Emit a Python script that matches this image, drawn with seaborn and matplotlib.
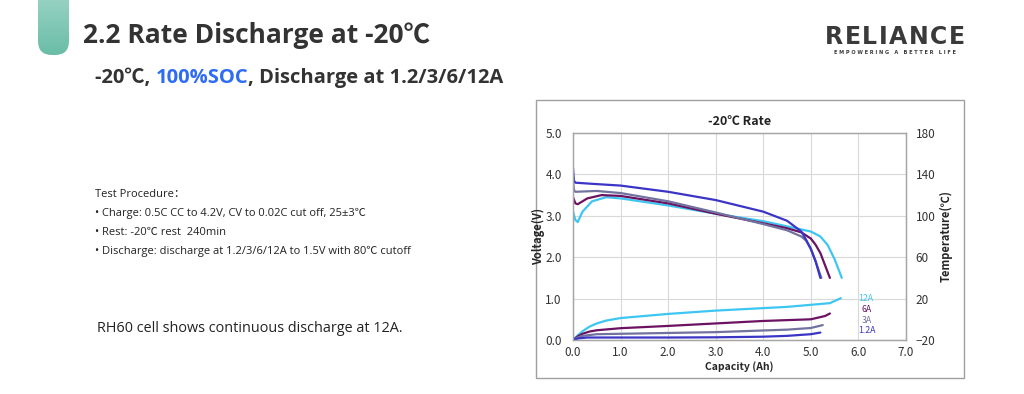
import matplotlib
matplotlib.use("Agg")
import matplotlib.pyplot as plt
import numpy as np
import seaborn as sns
from matplotlib.patches import FancyBboxPatch, Rectangle

sns.set_style("white")
plt.rcParams['font.family'] = ['Noto Sans CJK SC', 'DejaVu Sans']
SLIDE_FONT = ['Open Sans', 'Noto Sans CJK SC', 'DejaVu Sans']

# Voltage curves (capacity Ah, voltage V)
cap_v_12 = [0, 0.02, 0.05, 0.3, 1.0, 2.0, 3.0, 4.0, 4.5, 4.8, 4.9, 5.0, 5.1, 5.2]
volt_12 = [4.15, 3.85, 3.80, 3.78, 3.73, 3.58, 3.38, 3.10, 2.88, 2.62, 2.42, 2.2, 1.9, 1.5]
cap_v_3 = [0, 0.02, 0.05, 0.5, 1.0, 2.0, 3.0, 4.0, 4.5, 4.8, 4.9, 5.0, 5.1, 5.22]
volt_3 = [3.85, 3.62, 3.58, 3.6, 3.55, 3.35, 3.08, 2.8, 2.65, 2.5, 2.4, 2.2, 1.9, 1.5]
cap_v_6 = [0, 0.05, 0.1, 0.3, 0.6, 1.0, 2.0, 3.0, 4.0, 4.5, 4.8, 5.0, 5.1, 5.2, 5.3, 5.4]
volt_6 = [3.45, 3.3, 3.28, 3.42, 3.5, 3.48, 3.3, 3.05, 2.82, 2.7, 2.6, 2.45, 2.3, 2.1, 1.8, 1.5]
cap_v_120 = [0, 0.05, 0.1, 0.2, 0.4, 0.7, 1.0, 2.0, 3.0, 4.0, 4.6, 5.0, 5.2, 5.35, 5.5, 5.65]
volt_120 = [3.1, 2.9, 2.85, 3.1, 3.35, 3.45, 3.42, 3.25, 3.05, 2.87, 2.72, 2.62, 2.5, 2.3, 1.95, 1.5]

# Temperature curves (capacity Ah, temperature C)
cap_t_12 = [0.0, 0.1, 0.3, 1.0, 2.0, 3.0, 4.0, 4.5, 5.0, 5.2]
temp_12 = [-20, -18.5, -17.6, -17.6, -17.6, -17.4, -16.8, -16.0, -14.4, -12.8]
cap_t_3 = [0.0, 0.1, 0.2, 0.5, 1.0, 2.0, 3.0, 4.0, 4.5, 5.0, 5.25]
temp_3 = [-20, -17.5, -16.0, -14.4, -14.0, -13.2, -12.4, -10.8, -10.0, -8.4, -5.6]
cap_t_6 = [0.0, 0.1, 0.2, 0.35, 0.5, 1.0, 2.0, 3.0, 4.0, 4.5, 5.0, 5.3, 5.4]
temp_6 = [-20, -16.5, -14.0, -11.8, -10.6, -8.6, -6.4, -4.0, -1.6, -0.8, 0.0, 3.2, 5.6]
cap_t_120 = [0.0, 0.1, 0.2, 0.35, 0.5, 0.7, 1.0, 2.0, 3.0, 4.0, 4.5, 5.0, 5.4, 5.63]
temp_120 = [-20, -15.5, -11.5, -7.0, -4.0, -1.2, 1.2, 5.2, 8.4, 10.8, 12.0, 14.0, 15.6, 20.4]

series_labels = ["12A", "6A", "3A", "1.2A"]
c_12 = "#3b35c6"
c_3 = "#72729f"
c_6 = "#6b1263"
c_120 = "#3ec6f2"

fig = plt.figure(figsize=(10.24, 3.94), dpi=100)

# overlay in pixel coordinates for slide decorations
bg = fig.add_axes([0, 0, 1, 1])
bg.set_xlim(0, 1024)
bg.set_ylim(394, 0)
bg.axis("off")

pill = FancyBboxPatch((38, -20), 31, 75, boxstyle="round,pad=0,rounding_size=14",
                      linewidth=0, facecolor="none")
bg.add_patch(pill)
grad = np.linspace(0, 1, 100).reshape(-1, 1)
im = bg.imshow(grad, cmap=matplotlib.colors.LinearSegmentedColormap.from_list(
    "g", ["#a6d9cc", "#6abda7"]), extent=(38, 69, 55, -20), aspect="auto", zorder=1)
im.set_clip_path(pill)

bg.text(83, 35, "2.2 Rate Discharge at -20℃", fontsize=19, fontweight="bold",
        color="#333333", va="center", ha="left", family=SLIDE_FONT)

fig.canvas.draw()
r = fig.canvas.get_renderer()
x = 95
for part, col in [("-20℃, ", "#333333"), ("100%SOC", "#2f6cf6"),
                  (", Discharge at 1.2/3/6/12A", "#333333")]:
    t = bg.text(x, 78, part, fontsize=14.5, fontweight="bold", color=col,
                va="center", family=SLIDE_FONT)
    x += t.get_window_extent(r).width

proc = ["Test Procedure：",
        "• Charge: 0.5C CC to 4.2V, CV to 0.02C cut off, 25±3℃",
        "• Rest: -20℃ rest  240min",
        "• Discharge: discharge at 1.2/3/6/12A to 1.5V with 80℃ cutoff"]
for i, line in enumerate(proc):
    bg.text(95, 194 + 19 * i, line, fontsize=8, color="#222222", va="center",
            family=SLIDE_FONT)
bg.text(97, 328, "RH60 cell shows continuous discharge at 12A.", fontsize=10.4,
        color="#222222", va="center", family=SLIDE_FONT)

# logo, letters with even gaps over the logo width
logo = "RELIANCE"
x = 825
for ch in logo:
    t = bg.text(x, 37, ch, fontsize=17, fontweight="bold", color="#3a3a3a",
                ha="left", va="center", family="DejaVu Sans")
    x += t.get_window_extent(r).width + 1.5
bg.text(895, 52, "E M P O W E R I N G   A   B E T T E R   L I F E", fontsize=3.6,
        fontweight="bold", color="#3a3a3a", ha="center", va="center", family="DejaVu Sans")

bg.add_patch(Rectangle((536, 100), 428, 278, facecolor="white", edgecolor="#a0a0a0",
                       linewidth=1, zorder=0.5))

# chart
ax = fig.add_axes([573 / 1024, 1 - 340 / 394, 333 / 1024, 207 / 394])
ax2 = ax.twinx()

for cap, v, col in [(cap_v_120, volt_120, c_120), (cap_v_6, volt_6, c_6),
                    (cap_v_3, volt_3, c_3), (cap_v_12, volt_12, c_12)]:
    sns.lineplot(x=cap, y=v, ax=ax, color=col, linewidth=1.6)
for cap, t, col in [(cap_t_120, temp_120, c_120), (cap_t_6, temp_6, c_6),
                    (cap_t_3, temp_3, c_3), (cap_t_12, temp_12, c_12)]:
    sns.lineplot(x=cap, y=t, ax=ax2, color=col, linewidth=1.6)

ax.set_xlim(0, 7)
ax.set_ylim(0, 5)
ax2.set_ylim(-20, 180)
ax.set_xticks(np.arange(0, 7.1, 1.0))
ax.set_yticks(np.arange(0, 5.1, 1.0))
ax2.set_yticks(np.arange(-20, 181, 40))
ax.set_xticklabels([f"{v:.1f}" for v in np.arange(0, 7.1, 1.0)])
ax.set_yticklabels([f"{v:.1f}" for v in np.arange(0, 5.1, 1.0)])
ax.grid(True, color="#d9d9d9", linewidth=0.8)
ax.set_axisbelow(True)
ax.tick_params(axis="y", labelsize=8.5, colors="#333333", length=0, pad=8)
ax.tick_params(axis="x", labelsize=8.5, colors="#333333", length=0, pad=4)
ax2.tick_params(axis="y", labelsize=8.5, colors="#333333", length=0, pad=7)
for a in (ax, ax2):
    for s in a.spines.values():
        s.set_color("#a6a6a6")
        s.set_linewidth(0.9)

ax.set_xlabel("Capacity (Ah)", fontsize=7.5, fontweight="bold", labelpad=2)
ax.set_ylabel("Voltage(V)", fontsize=8, fontweight="bold", labelpad=0)
ax2.set_ylabel("Temperature(℃)", fontsize=8, fontweight="bold", labelpad=3)
ax.text(0.5, 1.025, "-20℃ Rate", transform=ax.transAxes, ha="center", va="bottom",
        fontsize=9, fontweight="bold", color="#222222")

label_pos = [(5.99, 1.01), (6.07, 0.73), (6.07, 0.46), (5.99, 0.24)]
for lab, (lx, ly), col in zip(series_labels, label_pos, [c_120, c_6, c_3, c_12]):
    ax.text(lx, ly, lab, fontsize=6.3, color=col, va="center", ha="left")

fig.savefig("out.png", dpi=100)
